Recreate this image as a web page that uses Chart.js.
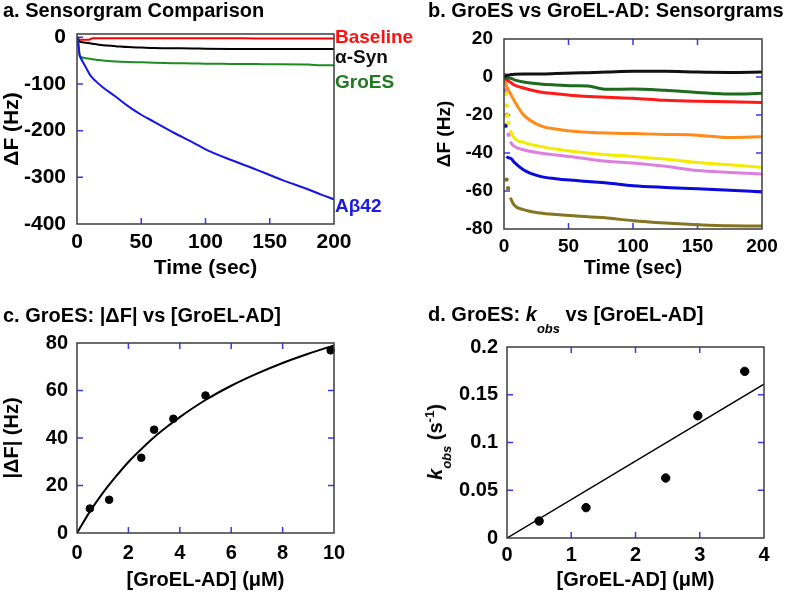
<!DOCTYPE html>
<html>
<head>
<meta charset="utf-8">
<script src="https://cdn.jsdelivr.net/npm/chart.js@4.4.1/dist/chart.umd.min.js"></script>
<style>
  body { margin: 0; background: #fff; }
  #fig { position: relative; width: 787px; height: 593px; overflow: hidden; background: #fff;
         font-family: 'Liberation Sans', Arial, sans-serif; font-weight: bold; color: #000; }
  canvas { position: absolute; }
  .ttl { position: absolute; font-size: 20px; line-height: 23px; white-space: nowrap; }
  .sub { font-size: 13px; font-style: italic; line-height: 0; }
</style>
</head>
<body>
<div id="fig">
  <canvas id="chartA" width="420" height="285" style="left:0;top:0"></canvas>
  <canvas id="chartB" width="387" height="285" style="left:400px;top:0"></canvas>
  <canvas id="chartC" width="400" height="303" style="left:0;top:290px"></canvas>
  <canvas id="chartD" width="387" height="303" style="left:400px;top:290px"></canvas>

  <div class="ttl" style="left:3px;top:-1px">a. Sensorgram Comparison</div>
  <div class="ttl" style="left:428px;top:-1px">b. GroES vs GroEL-AD: Sensorgrams</div>
  <div class="ttl" style="left:3px;top:304px">c. GroES: |ΔF| vs [GroEL-AD]</div>
  <div class="ttl" style="left:428px;top:303px">d. GroES: <i>k</i><span class="sub" style="vertical-align:-12px">obs</span> vs [GroEL-AD]</div>
  <div class="ttl" style="left:436px;top:442px;line-height:20px;transform:translate(-50%,-50%) rotate(-90deg)"><i>k</i><span class="sub" style="vertical-align:-9px">obs</span> (s<span style="font-size:13px;line-height:0;vertical-align:8px">-1</span>)</div>
</div>

<script>
// ---- a. Sensorgram comparison ----
const seriesA = ['Baseline', 'α-Syn', 'GroES', 'Aβ42'];
const timeA = [0, 1, 2, 3, 5, 7, 10, 12, 15, 20, 30, 40, 50, 60, 75, 90, 100, 120, 140, 150, 160, 180, 190, 200];
const baselineA = [0, -3, -5, -5.5, -5.5, -5.5, -5, -2, -2, -2, -2, -2, -2, -2, -2, -2, -2, -2, -2.5, -2.5, -2.5, -2.5, -2.5, -2.5];
const synA = [0, -5, -9, -10, -11, -12, -13, -14, -15, -17, -19, -21, -22, -23, -23.5, -24, -24.5, -25, -25, -25, -25, -25, -25, -25];
const groesA = [0, -10, -38, -42, -44, -45, -46, -47, -48, -50, -52, -53, -53.5, -54.5, -55.5, -56, -56.5, -57, -57.5, -58, -58, -58.5, -60, -60];
const abetaA = [0, -15, -38, -45, -55, -65, -80, -87, -95, -107, -127, -148, -166, -181, -204, -225, -240, -263, -284, -295, -306, -326, -337, -347];
const xTicksA = [0, 50, 100, 150, 200];
const yTicksA = [0, -100, -200, -300, -400];
const labelAtA = [0, -44, -98, -363];

// ---- b. GroES vs GroEL-AD sensorgrams (GroEL-AD, µM) ----
const seriesB = ['0', '0.5', '1.25', '2.5', '3', '3.75', '5', '10'];
const tailTimeB = [5, 8, 15, 28, 40, 54, 65, 80, 100, 125, 150, 175, 200];
const headTimeB = [[0, 2], [0, 2], [0, 2], [0, 2], [1.6, 2.1, 2.6, 3.4], [1, 2.1, 3.6], [1.2, 2], [0.8, 2, 3.2]];
const headValB = [[0, 0.8], [0, -0.8], [0, -1.4], [0, -4.9], [-9, -15, -20.4, -24.2], [-7, -19.8, -30.4], [-25.6, -41.8], [1, -54, -58.5]];
const dotsB = [0, 0, 0, 0, 4, 3, 1, 3];
const tailValB = [
  [1.2, 1.5, 1.6, 1.6, 1.8, 2.1, 2.3, 2.6, 3.0, 3.0, 2.6, 2.4, 2.6],
  [-0.6, -1.5, -2.6, -3.7, -4.2, -4.6, -4.8, -6.5, -6.3, -7.0, -8.1, -9.0, -8.6],
  [-2.8, -4.2, -5.8, -7.9, -8.8, -9.7, -10.2, -10.7, -11.2, -12.3, -12.8, -13.0, -13.4],
  [-8.8, -12.5, -19.8, -25.6, -27.4, -28.6, -29.1, -29.5, -29.8, -30.2, -30.6, -31.8, -31.4],
  [-28.0, -32.2, -34.4, -36.5, -37.9, -39.2, -40.0, -40.9, -41.8, -43.2, -45.0, -46.2, -47.5],
  [-34.0, -36.5, -38.3, -40.0, -41.0, -42.1, -43.2, -44.4, -45.3, -47.0, -49.2, -50.2, -51.0],
  [-42.8, -44.9, -48.8, -52.3, -53.5, -54.4, -55.0, -55.8, -57.2, -58.1, -58.8, -59.6, -60.5],
  [-63.5, -67.5, -69.8, -71.6, -72.4, -73.0, -73.6, -74.2, -75.6, -76.8, -77.7, -78.3, -78.4]
];
const xTicksB = [0, 50, 100, 150, 200];
const yTicksB = [20, 0, -20, -40, -60, -80];

// ---- c. |dF| vs [GroEL-AD] ----
const concC = [0.5, 1.25, 2.5, 3, 3.75, 5, 9.87];
const dfC = [10.3, 14, 31.7, 43.5, 48.1, 57.9, 76.9];
const fitXC = [0, 0.5, 1, 1.5, 2, 2.5, 3, 3.5, 4, 5, 6, 7, 8, 9, 10];
const fitYC = [0, 9, 16.8, 23.6, 29.9, 35.3, 40.3, 44.7, 48.8, 56, 62, 67.1, 71.6, 75.5, 79];
const xTicksC = [0, 2, 4, 6, 8, 10];
const yTicksC = [0, 20, 40, 60, 80];

// ---- d. kobs vs [GroEL-AD] ----
const concD = [0.5, 1.23, 2.47, 2.97, 3.7];
const kobsD = [0.0178, 0.0318, 0.0628, 0.128, 0.1745];
const fitXD = [0, 4];
const fitYD = [0, 0.161];
const xTicksD = [0, 1, 2, 3, 4];
const yTicksD = [0, 0.05, 0.1, 0.15, 0.2];

Chart.defaults.font.family = "'Liberation Sans', Arial, sans-serif";
Chart.defaults.font.weight = 'bold';
Chart.defaults.color = '#000';

const pts = (xs, ys) => xs.map((x, i) => ({ x: x, y: ys[i] }));

// inward blue ticks + dark frame
const frameTicks = {
  id: 'frameTicks',
  beforeDatasetsDraw(chart, args, opts) {
    const { ctx, chartArea: a, scales: { x, y } } = chart;
    const L = 6;
    ctx.save();
    ctx.strokeStyle = '#3838ee';
    ctx.lineWidth = 1.5;
    ctx.beginPath();
    x.ticks.forEach(t => {
      const px = x.getPixelForValue(t.value);
      if (px < a.left + 2 || px > a.right - 2) return;
      ctx.moveTo(px, a.bottom); ctx.lineTo(px, a.bottom - L);
      if (opts.mirror) { ctx.moveTo(px, a.top); ctx.lineTo(px, a.top + L); }
    });
    y.ticks.forEach(t => {
      const py = y.getPixelForValue(t.value);
      if (py < a.top + 2 || py > a.bottom - 2) return;
      ctx.moveTo(a.left, py); ctx.lineTo(a.left + L, py);
      if (opts.mirror) { ctx.moveTo(a.right, py); ctx.lineTo(a.right - L, py); }
    });
    ctx.stroke();
    ctx.restore();
  },
  afterDatasetsDraw(chart) {
    const { ctx, chartArea: a } = chart;
    ctx.save();
    ctx.strokeStyle = '#3c3c3c';
    ctx.lineWidth = 1.5;
    ctx.strokeRect(a.left, a.top, a.right - a.left, a.bottom - a.top);
    ctx.restore();
  }
};

const colorsA = ['#ff0000', '#000000', '#1e8c1e', '#1515e6'];
const labelColorsA = ['#ff1010', '#111111', '#207a20', '#1a1ae0'];
const endLabels = {
  id: 'endLabels',
  afterDatasetsDraw(chart) {
    const { ctx, chartArea: a, scales: { y } } = chart;
    ctx.save();
    ctx.font = "bold 19px 'Liberation Sans', Arial, sans-serif";
    ctx.textBaseline = 'middle';
    seriesA.forEach((name, i) => {
      ctx.fillStyle = labelColorsA[i];
      ctx.fillText(name, a.right + 1, y.getPixelForValue(labelAtA[i]));
    });
    ctx.restore();
  }
};

function makePanel(id, g, s) {
  return new Chart(document.getElementById(id), {
    type: 'scatter',
    data: { datasets: s.datasets },
    plugins: s.plugins,
    options: {
      responsive: false,
      animation: false,
      devicePixelRatio: 1,
      layout: { padding: { left: 0, top: g.t - g.top, right: g.left + g.w - g.r, bottom: 0 } },
      plugins: { legend: { display: false }, tooltip: { enabled: false }, frameTicks: { mirror: s.mirror } },
      scales: {
        x: {
          type: 'linear', min: s.xMin, max: s.xMax,
          afterBuildTicks: sc => { sc.ticks = s.xTicks.map(v => ({ value: v })); },
          afterFit: sc => { sc.height = g.top + g.h - g.b; },
          grid: { display: false, drawTicks: false },
          border: { display: false },
          ticks: { padding: s.xPad, font: { size: s.tickSize }, autoSkip: false, maxRotation: 0, callback: v => String(v) },
          title: { display: true, text: s.xTitle, font: { size: s.xTitleSize }, padding: { top: 0, bottom: s.xTitlePad } }
        },
        y: {
          type: 'linear', min: s.yMin, max: s.yMax,
          afterBuildTicks: sc => { sc.ticks = s.yTicks.map(v => ({ value: v })); },
          afterFit: sc => { sc.width = g.l - g.left; },
          grid: { display: false, drawTicks: false },
          border: { display: false },
          ticks: { padding: s.yPad, font: { size: s.tickSize }, autoSkip: false, callback: v => String(v) },
          title: { display: !!s.yTitle, text: s.yTitle, font: { size: s.yTitleSize }, padding: { top: s.yTitlePad, bottom: 0 } }
        }
      }
    }
  });
}

// panel a
const valuesA = [baselineA, synA, groesA, abetaA];
makePanel('chartA', { left: 0, top: 0, w: 420, h: 285, l: 77, t: 34, r: 334, b: 224 }, {
  datasets: seriesA.map((name, i) => ({
    label: name, data: pts(timeA, valuesA[i]), showLine: true, pointRadius: 0,
    borderColor: colorsA[i], borderWidth: 2, cubicInterpolationMode: 'monotone'
  })).reverse(),
  plugins: [frameTicks, endLabels],
  mirror: false,
  xMin: 0, xMax: 200, xTicks: xTicksA, yMin: -400, yMax: 7, yTicks: yTicksA,
  tickSize: 21, xPad: 6, yPad: 11,
  xTitle: 'Time (sec)', xTitleSize: 21, xTitlePad: 4.4,
  yTitle: 'ΔF (Hz)', yTitleSize: 21, yTitlePad: 0
});

// panel b
const colorsB = ['#111111', '#1d6b1d', '#ff1a1a', '#ff8c1a', '#f2ec00', '#dd80dd', '#0a0adc', '#867520'];
makePanel('chartB', { left: 400, top: 0, w: 387, h: 285, l: 504, t: 39, r: 762, b: 229 }, {
  datasets: seriesB.map((name, i) => {
    const n = dotsB[i];
    return {
      label: name + ' µM',
      data: pts(headTimeB[i].concat(tailTimeB), headValB[i].concat(tailValB[i])),
      showLine: true, borderColor: colorsB[i], backgroundColor: colorsB[i], borderWidth: 3,
      cubicInterpolationMode: 'monotone',
      pointRadius: ctx => ctx.dataIndex < n ? 2.2 : 0,
      pointBorderWidth: 0,
      segment: { borderColor: ctx => ctx.p0DataIndex < n ? 'rgba(0,0,0,0)' : undefined }
    };
  }),
  plugins: [frameTicks],
  mirror: true,
  xMin: 0, xMax: 200, xTicks: xTicksB, yMin: -80, yMax: 20, yTicks: yTicksB,
  tickSize: 19, xPad: 6, yPad: 11,
  xTitle: 'Time (sec)', xTitleSize: 20, xTitlePad: 5,
  yTitle: 'ΔF (Hz)', yTitleSize: 19, yTitlePad: 33.6
});

// panel c
makePanel('chartC', { left: 0, top: 290, w: 400, h: 303, l: 77, t: 343, r: 334, b: 533 }, {
  datasets: [
    { label: '|ΔF|', data: pts(concC, dfC), pointRadius: 3.8, backgroundColor: '#000', borderColor: '#000', clip: false },
    { label: 'fit', data: pts(fitXC, fitYC), showLine: true, pointRadius: 0, borderColor: '#000', borderWidth: 2, cubicInterpolationMode: 'monotone' }
  ],
  plugins: [frameTicks],
  mirror: true,
  xMin: 0, xMax: 10, xTicks: xTicksC, yMin: 0, yMax: 80, yTicks: yTicksC,
  tickSize: 20, xPad: 8, yPad: 9,
  xTitle: '[GroEL-AD] (μM)', xTitleSize: 20, xTitlePad: 0.5,
  yTitle: '|ΔF| (Hz)', yTitleSize: 20, yTitlePad: 0
});

// panel d
makePanel('chartD', { left: 400, top: 290, w: 387, h: 303, l: 507, t: 347, r: 764, b: 538 }, {
  datasets: [
    { label: 'kobs', data: pts(concD, kobsD), pointRadius: 4.2, backgroundColor: '#000', borderColor: '#000', clip: false },
    { label: 'fit', data: pts(fitXD, fitYD), showLine: true, pointRadius: 0, borderColor: '#000', borderWidth: 1.5 }
  ],
  plugins: [frameTicks],
  mirror: true,
  xMin: 0, xMax: 4, xTicks: xTicksD, yMin: 0, yMax: 0.2, yTicks: yTicksD,
  tickSize: 20, xPad: 5, yPad: 9,
  xTitle: '[GroEL-AD] (μM)', xTitleSize: 20, xTitlePad: 0.5,
  yTitle: '', yTitleSize: 20, yTitlePad: 0
});
</script>
</body>
</html>
